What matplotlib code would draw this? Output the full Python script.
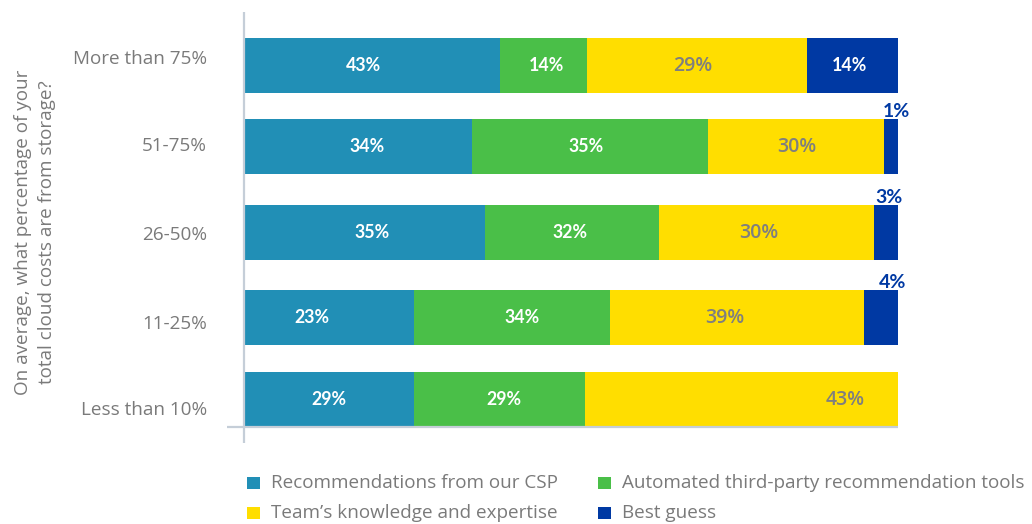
import matplotlib
matplotlib.use("Agg")
import matplotlib.pyplot as plt
from matplotlib.patches import Rectangle

plt.rcParams['font.family'] = ['Open Sans', 'DejaVu Sans']

# ---- data ----
categories = ["More than 75%", "51-75%", "26-50%", "11-25%", "Less than 10%"]
series_names = ["Recommendations from our CSP", "Automated third-party recommendation tools",
                "Team\u2019s knowledge and expertise", "Best guess"]
# drawn segment widths
csp = [39.1, 34.8, 36.8, 25.9, 25.9]
auto = [13.2, 36.1, 26.6, 30.0, 26.2]
team = [33.8, 27.0, 32.9, 38.9, 47.9]
guess = [14.1, 2.1, 3.7, 5.4, 0.0]
# printed labels
csp_lbl = ["43%", "34%", "35%", "23%", "29%"]
auto_lbl = ["14%", "35%", "32%", "34%", "29%"]
team_lbl = ["29%", "30%", "30%", "39%", "43%"]
guess_lbl = ["14%", "1%", "3%", "4%", ""]

colors = ["#218fb6", "#4abf48", "#ffde00", "#0039a3"]
num_font = ['Lato', 'DejaVu Sans']

# ---- layout ----
W, H = 1032, 524
fig = plt.figure(figsize=(W / 100, H / 100), dpi=100)
ax_left, ax_right, ax_top, ax_bot = 245, 898, 12, 443
ax = fig.add_axes([ax_left / W, 1 - ax_bot / H, (ax_right - ax_left) / W, (ax_bot - ax_top) / H])
px_per_unit_y = 83.5
y0_px = 65.5
ax.set_xlim(0, 100)
ax.set_ylim((ax_bot - y0_px) / px_per_unit_y, (ax_top - y0_px) / px_per_unit_y)
for s in ax.spines.values():
    s.set_visible(False)
ax.set_xticks([])

ypos = [0.0, 0.970, 2.0, 3.018, 4.0]
bar_h = 0.647

series = [csp, auto, team, guess]
left = [0.0] * len(categories)
for vals, col in zip(series, colors):
    ax.barh(ypos, vals, left=left, height=bar_h, color=col, linewidth=0)
    left = [l + v for l, v in zip(left, vals)]

# labels
label_x = [[18.2, 46.1, 68.6, 92.5],
           [18.7, 52.2, 84.5, 99.8],
           [19.4, 49.8, 78.7, 98.6],
           [10.3, 42.4, 73.4, 99.2],
           [12.9, 39.7, 91.9]]
labels = [csp_lbl, auto_lbl, team_lbl, guess_lbl]
for i in range(len(categories)):
    for j, lx in enumerate(label_x[i]):
        txt = labels[j][i]
        if not txt:
            continue
        if j in (0, 1) or (j == 3 and guess[i] >= 8):
            ax.text(lx, ypos[i], txt, ha='center', va='center', color='white',
                    fontsize=12.8, fontweight='bold', family=num_font)
        elif j == 2:
            ax.text(lx, ypos[i] + 0.01, txt, ha='center', va='center', color='#7f7f7f',
                    fontsize=14, fontweight='semibold')
        else:
            ax.text(lx, ypos[i] - bar_h / 2 - 0.03, txt, ha='center', va='baseline',
                    color='#0039a3', fontsize=14, fontweight='bold', family=num_font)

# category tick labels
tick_pos = [-0.102, 0.940, 2.006, 3.072, 4.102]
ax.set_yticks(tick_pos)
ax.set_yticklabels(categories, fontsize=13.6, color='#7a7a7a')
ax.tick_params(axis='y', length=0, pad=27.5)

# axis lines
axis_col = '#c5ced8'
ax.plot([-0.15, -0.15], [(ax_top - y0_px) / px_per_unit_y, (ax_bot - y0_px) / px_per_unit_y],
        color=axis_col, lw=1.6, clip_on=False, solid_capstyle='butt')
ax.plot([-2.8, 100], [4.333, 4.333], color=axis_col, lw=1.6, clip_on=False,
        solid_capstyle='butt')

# y title
fig.text(35 / W, 1 - 232 / H, "On average, what percentage of your\ntotal cloud costs are from storage?",
         rotation=90, ha='center', va='center', multialignment='center',
         fontsize=13.6, color='#7a7a7a', linespacing=1.38)

# legend
leg_items = [(247, 483, 0), (598, 483, 1), (247, 513, 2), (598, 513, 3)]
for x, y, k in leg_items:
    fig.add_artist(Rectangle((x / W, 1 - (y + 6) / H), 13 / W, 12 / H,
                             transform=fig.transFigure, color=colors[k], linewidth=0))
    fig.text((x + 24) / W, 1 - y / H, series_names[k], ha='left', va='center',
             fontsize=13.6, color='#7a7a7a')

fig.savefig("out.png", dpi=100)
